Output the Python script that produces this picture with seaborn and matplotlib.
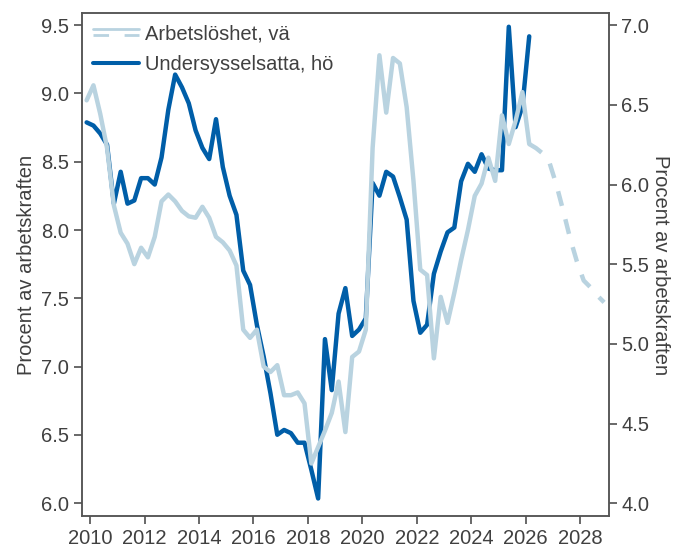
import numpy as np
import pandas as pd
import seaborn as sns
import matplotlib.pyplot as plt
from matplotlib.lines import Line2D
from matplotlib.legend_handler import HandlerBase

# Kvartal 2009K4 - 2026K1 (utfall), prognos 2026K1 - 2028K4
quarters = pd.period_range("2009Q4", "2026Q1", freq="Q")
fc_quarters = pd.period_range("2026Q1", "2028Q4", freq="Q")

# Arbetslöshet (vänster axel), procent av arbetskraften
arbetsloshet = [8.95, 9.06, 8.85, 8.60, 8.18, 7.98, 7.90, 7.75, 7.87, 7.80,
                7.95, 8.21, 8.26, 8.21, 8.14, 8.10, 8.09, 8.17, 8.09, 7.95,
                7.91, 7.85, 7.74, 7.27, 7.21, 7.27, 7.00, 6.96, 7.01, 6.79,
                6.79, 6.81, 6.73, 6.29, 6.41, 6.53, 6.66, 6.89, 6.52, 7.07,
                7.11, 7.27, 8.60, 9.28, 8.86, 9.26, 9.22, 8.90, 8.36, 7.71,
                7.67, 7.06, 7.51, 7.32, 7.54, 7.78, 8.00, 8.25, 8.34, 8.53,
                8.36, 8.84, 8.63, 8.80, 9.01, 8.63]

# Prognos arbetslöshet
arbetsloshet_prognos = [8.63, 8.60, 8.56, 8.49, 8.33, 8.14, 7.94, 7.77,
                        7.63, 7.58, 7.52, 7.47]

# Undersysselsatta (höger axel), procent av arbetskraften
undersysselsatta = [6.39, 6.37, 6.32, 6.25, 5.88, 6.08, 5.88, 5.90, 6.04, 6.04,
                    6.00, 6.17, 6.47, 6.69, 6.61, 6.51, 6.34, 6.23, 6.16, 6.41,
                    6.11, 5.93, 5.81, 5.46, 5.37, 5.12, 4.92, 4.69, 4.43, 4.46,
                    4.44, 4.38, 4.38, 4.21, 4.03, 5.03, 4.71, 5.19, 5.35, 5.05,
                    5.09, 5.16, 6.01, 5.93, 6.08, 6.05, 5.92, 5.78, 5.27, 5.07,
                    5.12, 5.44, 5.58, 5.70, 5.73, 6.02, 6.13, 6.08, 6.19, 6.10,
                    6.09, 6.09, 6.99, 6.36, 6.49, 6.93]

x_ticks = [2010, 2012, 2014, 2016, 2018, 2020, 2022, 2024, 2026, 2028]
left_ticks = [6.0, 6.5, 7.0, 7.5, 8.0, 8.5, 9.0, 9.5]
right_ticks = [4.0, 4.5, 5.0, 5.5, 6.0, 6.5, 7.0]


def to_year(periods):
    # mitten av kvartalet
    return periods.year + (periods.quarter - 1) / 4 + 0.125


df = pd.DataFrame({"tid": to_year(quarters),
                   "arbetsloshet": arbetsloshet,
                   "undersysselsatta": undersysselsatta})
df_fc = pd.DataFrame({"tid": to_year(fc_quarters),
                      "prognos": arbetsloshet_prognos})

LIGHT = "#b9d3e0"
DARK = "#005ea8"
TEXT = "#404040"
FS = 14.5


class HandlerSplit(HandlerBase):
    # heldragen linje ovanför streckad, som i originalet
    def create_artists(self, legend, orig_handle, xdescent, ydescent,
                       width, height, fontsize, trans):
        x = [-xdescent, width - xdescent]
        top = Line2D(x, [0.72 * height - ydescent] * 2, color=LIGHT, lw=2.0)
        bot = Line2D(x, [0.28 * height - ydescent] * 2, color=LIGHT, lw=2.0,
                     dashes=[5.6, 5.6])
        top.set_transform(trans)
        bot.set_transform(trans)
        return [top, bot]


sns.set_style("ticks")
plt.rcParams["font.family"] = ["Liberation Sans", "DejaVu Sans"]
plt.rcParams["text.color"] = TEXT
plt.rcParams["axes.labelcolor"] = TEXT
plt.rcParams["xtick.color"] = TEXT
plt.rcParams["ytick.color"] = TEXT
plt.rcParams["axes.edgecolor"] = "#555555"

fig = plt.figure(figsize=(6.88, 5.51), dpi=100)
ax = fig.add_axes([0.119, 0.0635, 0.766, 0.9125])
ax2 = ax.twinx()

sns.lineplot(data=df, x="tid", y="undersysselsatta", ax=ax2, color=DARK,
             lw=3.2, legend=False)
sns.lineplot(data=df, x="tid", y="arbetsloshet", ax=ax, color=LIGHT,
             lw=3.2, legend=False)
sns.lineplot(data=df_fc, x="tid", y="prognos", ax=ax, color=LIGHT,
             lw=3.2, legend=False)
ax.lines[-1].set_dashes([3.4, 3.1])

# ljusblå linje ovanpå den mörka
ax.set_zorder(ax2.get_zorder() + 1)
ax.patch.set_visible(False)

ax.set_xlim(2009.7, 2029.05)
ax.set_ylim(5.905, 9.588)
ax2.set_ylim(3.92, 7.075)
ax.set_xticks(x_ticks)
ax.set_yticks(left_ticks)
ax2.set_yticks(right_ticks)
ax.set_yticklabels([f"{v:.1f}" for v in left_ticks])
ax2.set_yticklabels([f"{v:.1f}" for v in right_ticks])

for a in (ax, ax2):
    a.tick_params(labelsize=FS, length=6, width=1.1, pad=3)
    for s in a.spines.values():
        s.set_linewidth(1.1)
        s.set_visible(True)

ax.set_xlabel("")
ax.set_ylabel("Procent av arbetskraften", fontsize=FS, labelpad=4)
ax2.set_ylabel("Procent av arbetskraften", fontsize=FS, rotation=270,
               labelpad=15)

h_arb = (Line2D([], [], color=LIGHT), Line2D([], [], color=LIGHT))
h_und = Line2D([], [], color=DARK, lw=2.9)
ax.legend([h_arb, h_und], ["Arbetslöshet, vä", "Undersysselsatta, hö"],
          handler_map={tuple: HandlerSplit()}, loc="upper left",
          frameon=False, fontsize=FS, handlelength=2.3, handletextpad=0.3,
          borderaxespad=0.15, labelspacing=0.6)

fig.savefig("out.png", dpi=100)
